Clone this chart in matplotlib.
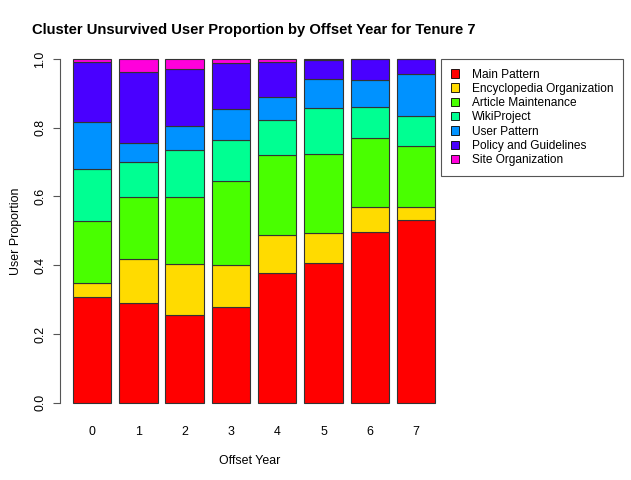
import numpy as np
import matplotlib
matplotlib.use("Agg")
import matplotlib.pyplot as plt
from matplotlib.patches import Patch

plt.rcParams['font.family'] = ['Liberation Sans', 'DejaVu Sans']

years = ['0', '1', '2', '3', '4', '5', '6', '7']
clusters = ['Main Pattern', 'Encyclopedia Organization', 'Article Maintenance',
            'WikiProject', 'User Pattern', 'Policy and Guidelines', 'Site Organization']
colors = ['#FF0000', '#FFDB00', '#49FF00', '#00FF92', '#0092FF', '#4900FF', '#FF00DB']

# proportions per cluster, one value per offset year
main_pattern = [0.308, 0.290, 0.254, 0.278, 0.376, 0.406, 0.496, 0.531]
encyclopedia_org = [0.039, 0.127, 0.149, 0.122, 0.111, 0.089, 0.073, 0.038]
article_maint = [0.182, 0.181, 0.195, 0.246, 0.234, 0.228, 0.200, 0.177]
wikiproject = [0.151, 0.103, 0.137, 0.118, 0.101, 0.134, 0.092, 0.089]
user_pattern = [0.138, 0.056, 0.071, 0.090, 0.068, 0.086, 0.077, 0.121]
policy_guidelines = [0.174, 0.204, 0.164, 0.135, 0.100, 0.054, 0.062, 0.044]
site_org = [0.008, 0.039, 0.030, 0.011, 0.010, 0.003, 0.000, 0.000]

series = [main_pattern, encyclopedia_org, article_maint, wikiproject,
          user_pattern, policy_guidelines, site_org]

fs = 8.9

fig = plt.figure(figsize=(6.31, 4.8), dpi=100)
ax = fig.add_axes([60 / 631, 77.3 / 480, 380 / 631, 343.7 / 480])

x = np.arange(len(years))
bottom = np.zeros(len(years))
for vals, col in zip(series, colors):
    ax.bar(x, vals, width=0.833, bottom=bottom, color=col,
           edgecolor='#333333', linewidth=0.8, clip_on=False)
    bottom += np.array(vals)

ax.set_xlim((60 - 92) / 46.3, (440 - 92) / 46.3)
ax.set_ylim(0, 1)
for s in ['top', 'right', 'bottom']:
    ax.spines[s].set_visible(False)
ax.spines['left'].set_color('#555555')
ax.spines['left'].set_linewidth(0.8)

ax.set_yticks([0, 0.2, 0.4, 0.6, 0.8, 1.0])
ax.set_yticklabels(['0.0', '0.2', '0.4', '0.6', '0.8', '1.0'], rotation=90,
                   va='center', fontsize=fs)
ax.tick_params(axis='y', length=5, width=0.8, color='#555555', pad=5)
ax.set_xticks(x)
ax.set_xticklabels(years, fontsize=fs)
ax.tick_params(axis='x', length=0, pad=17)

ax.set_ylabel('User Proportion', fontsize=fs, labelpad=9)
ax.set_xlabel('Offset Year', fontsize=fs, labelpad=12)
fig.text(254 / 631, 1 - 30 / 480, 'Cluster Unsurvived User Proportion by Offset Year for Tenure 7',
         ha='center', va='center', fontsize=10.6, fontweight='bold')

handles = [Patch(facecolor=c, edgecolor='black', linewidth=0.6) for c in colors]
leg = fig.legend(handles, clusters, loc='upper left',
                 bbox_to_anchor=(441 / 631, 1 - 59 / 480), fontsize=8.6,
                 fancybox=False, edgecolor='#555555', framealpha=1,
                 handlelength=0.7, handleheight=0.7, handletextpad=1.1,
                 labelspacing=0.19, borderpad=0.8, borderaxespad=0)
leg.get_frame().set_linewidth(0.8)

fig.savefig('out.png', dpi=100)
